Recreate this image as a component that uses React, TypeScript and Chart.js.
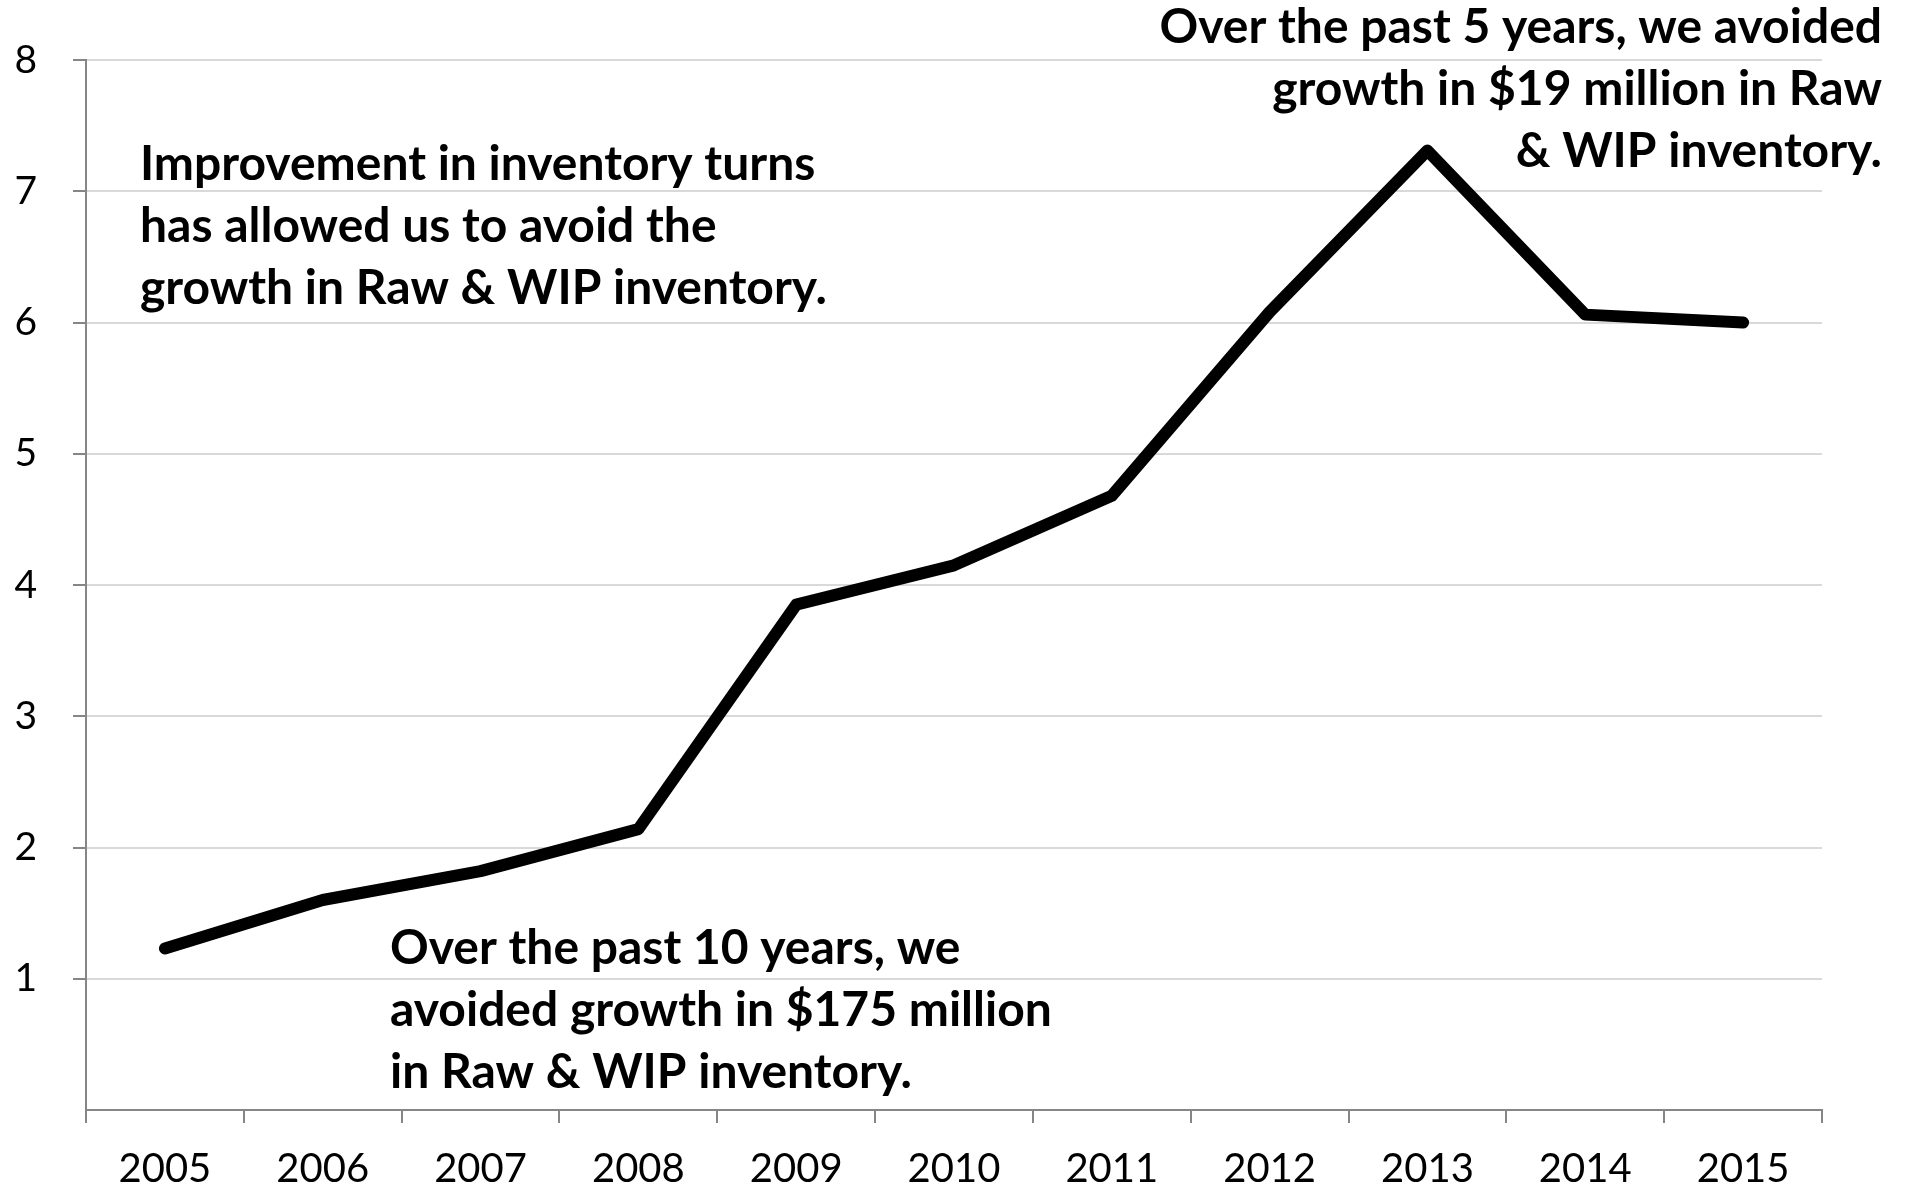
import React, { useEffect, useRef } from "react";
import { Chart, registerables } from "chart.js";

Chart.register(...registerables);

const years = ["2005", "2006", "2007", "2008", "2009", "2010", "2011", "2012", "2013", "2014", "2015"];
const turns = [1.23, 1.6, 1.82, 2.14, 3.85, 4.15, 4.68, 6.08, 7.31, 6.06, 6.0];
const yTicks = [1, 2, 3, 4, 5, 6, 7, 8];

const noteLeft = ["Improvement in inventory turns", "has allowed us to avoid the", "growth in Raw & WIP inventory."];
const noteRight = ["Over the past 5 years, we avoided", "growth in $19 million in Raw", "& WIP inventory."];
const noteBottom = ["Over the past 10 years, we", "avoided growth in $175 million", "in Raw & WIP inventory."];

const FONT = "Lato";

const notesPlugin = {
  id: "notes",
  afterDatasetsDraw(chart: any) {
    const ctx = chart.ctx as CanvasRenderingContext2D;
    ctx.save();
    ctx.fillStyle = "#000";
    ctx.font = `bold 48px ${FONT}`;
    ctx.textBaseline = "middle";
    const lh = 62;
    ctx.textAlign = "left";
    noteLeft.forEach((t, i) => ctx.fillText(t, 140, 165 + i * lh));
    noteBottom.forEach((t, i) => ctx.fillText(t, 390, 949 + i * lh));
    ctx.textAlign = "right";
    noteRight.forEach((t, i) => ctx.fillText(t, 1882, 28 + i * lh));
    ctx.restore();
  },
};

export default function App() {
  const ref = useRef<HTMLCanvasElement | null>(null);
  useEffect(() => {
    document.body.style.margin = "0";
    const chart = new Chart(ref.current as HTMLCanvasElement, {
      type: "line",
      data: {
        labels: years,
        datasets: [
          {
            data: turns,
            borderColor: "#000",
            borderWidth: 12,
            borderCapStyle: "round",
            borderJoinStyle: "round",
            pointRadius: 0,
            tension: 0,
            fill: false,
          },
        ],
      },
      options: {
        animation: false,
        responsive: false,
        maintainAspectRatio: false,
        layout: { padding: { left: 0, top: 60, right: 84, bottom: 0 } },
        plugins: { legend: { display: false }, tooltip: { enabled: false } },
        scales: {
          x: {
            offset: true,
            grid: {
              offset: true,
              drawOnChartArea: false,
              tickLength: 13,
              tickColor: "#868686",
              lineWidth: 2,
            },
            border: { color: "#868686", width: 2 },
            ticks: { color: "#000", font: { family: FONT, size: 40 }, padding: 22, maxRotation: 0 },
            afterFit(scale: any) {
              scale.height = 76;
            },
          },
          y: {
            min: 0,
            max: 8,
            afterBuildTicks(scale: any) {
              scale.ticks = yTicks.map((v) => ({ value: v }));
            },
            grid: {
              color: "#d9d9d9",
              lineWidth: 2,
              tickLength: 13,
              tickColor: "#868686",
            },
            border: { color: "#868686", width: 2 },
            ticks: { color: "#000", font: { family: FONT, size: 39 }, padding: 36 },
            afterFit(scale: any) {
              scale.width = 86;
            },
          },
        },
      },
      plugins: [notesPlugin],
    });
    return () => chart.destroy();
  }, []);
  return (
    <div style={{ position: "fixed", left: 0, top: 0, width: 1906, height: 1186, background: "#fff" }}>
      <canvas ref={ref} width={1906} height={1186} style={{ width: 1906, height: 1186 }} />
    </div>
  );
}
